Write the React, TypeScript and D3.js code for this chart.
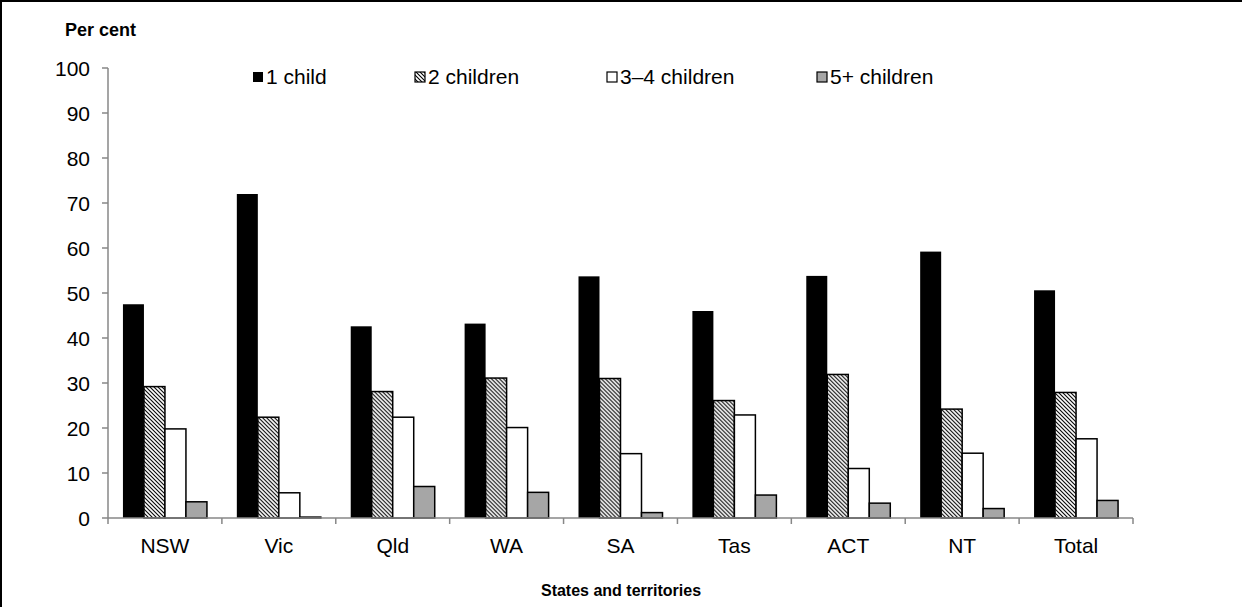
import React from "react";
import * as d3 from "d3";

const categories = ["NSW", "Vic", "Qld", "WA", "SA", "Tas", "ACT", "NT", "Total"];
const seriesNames = ["1 child", "2 children", "3–4 children", "5+ children"];
const oneChild = [47.5, 72.0, 42.6, 43.2, 53.7, 46.0, 53.8, 59.2, 50.6];
const twoChildren = [29.2, 22.4, 28.1, 31.1, 31.0, 26.1, 31.9, 24.2, 27.9];
const threeFourChildren = [19.8, 5.6, 22.4, 20.1, 14.3, 22.9, 11.0, 14.4, 17.6];
const fivePlusChildren = [3.6, 0.2, 7.0, 5.7, 1.2, 5.1, 3.3, 2.1, 3.9];
const yTicks = [0, 10, 20, 30, 40, 50, 60, 70, 80, 90, 100];

const seriesValues = [oneChild, twoChildren, threeFourChildren, fivePlusChildren];
const fills = ["#000000", "url(#hatch)", "#ffffff", "#a6a6a6"];
const legendX = [253, 415, 607, 817];

export default function App() {
  const W = 1242, H = 607;
  const left = 108, right = 1133, top = 68, bottom = 518;
  const x = d3.scaleBand().domain(categories).range([left, right]).paddingInner(0).paddingOuter(0);
  const y = d3.scaleLinear().domain([0, 100]).range([bottom, top]);
  const groupW = 84;
  const inner = d3.scaleBand().domain(seriesNames).range([0, groupW]);
  const font = "'Liberation Sans', Arial, sans-serif";
  const axisColor = "#878787";

  return (
    <svg width={W} height={H} style={{ position: "absolute", left: 0, top: 0 }} fontFamily={font}>
      <defs>
        <pattern id="hatch" patternUnits="userSpaceOnUse" width="4" height="4">
          <rect width="4" height="4" fill="#fff" />
          <path d="M-1,-1 L5,5 M-1,3 L1,5 M3,-1 L5,1" stroke="#000" strokeWidth="1.1" />
        </pattern>
      </defs>
      <rect x={0} y={0} width={W} height={H} fill="#fff" />
      <line x1={1} y1={0} x2={1} y2={H} stroke="#000" strokeWidth={2} />
      <line x1={0} y1={1} x2={W} y2={1} stroke="#000" strokeWidth={2} />

      <text x={65} y={36} fontSize={18} fontWeight="bold">Per cent</text>

      {/* y axis */}
      <line x1={left} y1={top} x2={left} y2={bottom} stroke={axisColor} strokeWidth={1.5} />
      {yTicks.map((t) => (
        <g key={t}>
          <line x1={left - 6} x2={left} y1={y(t)} y2={y(t)} stroke={axisColor} strokeWidth={1.5} />
          <text x={left - 18} y={y(t)} dy="0.36em" textAnchor="end" fontSize={21}>{t}</text>
        </g>
      ))}

      {/* bars */}
      {categories.map((c, i) => (
        <g key={c} transform={`translate(${(x(c) as number) + (x.bandwidth() - groupW) / 2},0)`}>
          {seriesValues.map((vals, s) => (
            <rect
              key={s}
              x={inner(seriesNames[s]) as number}
              y={y(vals[i])}
              width={inner.bandwidth()}
              height={bottom - y(vals[i])}
              fill={fills[s]}
              stroke="#000"
              strokeWidth={s === 0 ? 0 : 1.5}
            />
          ))}
        </g>
      ))}

      {/* x axis */}
      <line x1={left} y1={bottom} x2={right} y2={bottom} stroke={axisColor} strokeWidth={1.5} />
      {[...categories.map((c) => x(c) as number), right].map((bx, i) => (
        <line key={i} x1={bx} x2={bx} y1={bottom} y2={bottom + 6} stroke={axisColor} strokeWidth={1.5} />
      ))}
      {categories.map((c) => (
        <text key={c} x={(x(c) as number) + x.bandwidth() / 2} y={553} textAnchor="middle" fontSize={21}>{c}</text>
      ))}

      <text x={621} y={596} textAnchor="middle" fontSize={16} fontWeight="bold">States and territories</text>

      {/* legend */}
      {seriesNames.map((n, s) => (
        <g key={n}>
          <rect x={legendX[s]} y={72} width={10} height={10} fill={fills[s]} stroke="#000" strokeWidth={s === 0 ? 0 : 1.2} />
          <text x={legendX[s] + 13} y={84} fontSize={21}>{n}</text>
        </g>
      ))}
    </svg>
  );
}
